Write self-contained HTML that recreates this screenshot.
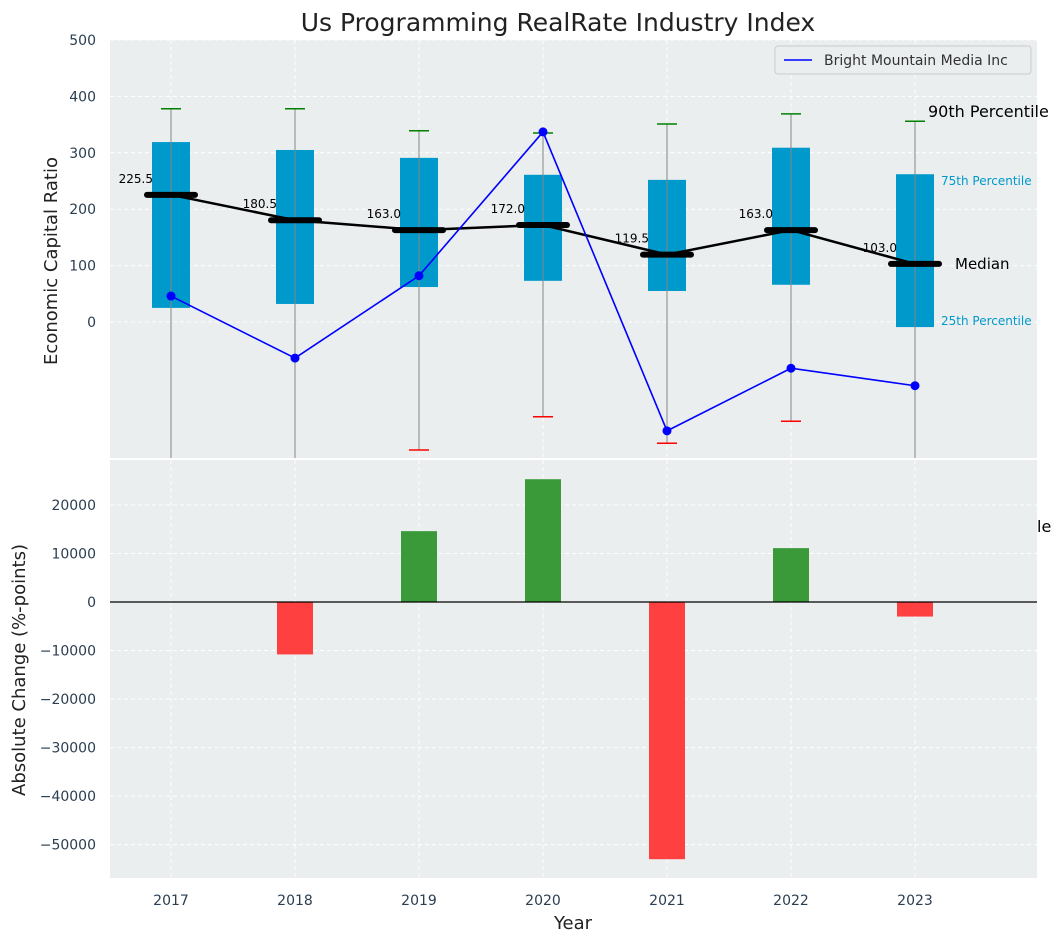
<!DOCTYPE html>
<html><head><meta charset="utf-8"><style>
body{margin:0;background:#fff;font-family:"Liberation Sans","DejaVu Sans",sans-serif}
svg text{font-family:"DejaVu Sans","Liberation Sans",sans-serif}
</style></head><body>
<svg id="c" width="1063" height="942" xmlns="http://www.w3.org/2000/svg"></svg>
<script>
const years=["2017","2018","2019","2020","2021","2022","2023"];
const p25=[25,32,62,73,55,66,-9];
const p75=[319,305,291,261,252,309,262];
const p90=[378,378,339,335,351,369,356];
const p10=[-300,-300,-227,-168,-215,-176,-300];
const medians=[225.5,180.5,163.0,172.0,119.5,163.0,103.0];
const company=[46,-64,82,337,-193,-82,-113];
const changes=[0,-10800,14600,25300,-53000,11100,-3000];
const topTicks=[0,100,200,300,400,500];
const botTicks=[20000,10000,0,-10000,-20000,-30000,-40000,-50000];

const NS="http://www.w3.org/2000/svg";
const svg=document.getElementById('c');
function el(t,a,txt,p){const e=document.createElementNS(NS,t);for(const k in a)e.setAttribute(k,a[k]);if(txt!=null)e.textContent=txt;(p||svg).appendChild(e);return e;}
const X=i=>171+i*124;
const L=110,R=1037,T1=40,B1=458,T2=460,B2=878;
const Y1=v=>322-v*0.564;
const Y2=v=>602-v*0.004853;

let bg=el('rect',{x:L,y:T1,width:R-L,height:B1-T1,fill:'#eaeeee'});

let bg2=el('rect',{x:L,y:T2,width:R-L,height:B2-T2,fill:'#eaeeee'});


years.forEach((y,i)=>{
 el('line',{x1:X(i),x2:X(i),y1:T1,y2:B1,stroke:'#fff','stroke-dasharray':'4,3'});
 el('line',{x1:X(i),x2:X(i),y1:T2,y2:B2,stroke:'#fff','stroke-dasharray':'4,3'});
 let t=el('text',{x:X(i),y:905,'text-anchor':'middle','font-size':14,fill:'#2b3e50'},y);
 
});
topTicks.forEach(v=>{
 el('line',{x1:L,x2:R,y1:Y1(v),y2:Y1(v),stroke:'#fff','stroke-dasharray':'4,3'});
 let t=el('text',{x:96,y:Y1(v)+5,'text-anchor':'end','font-size':14,fill:'#2b3e50'},v);
 
});
botTicks.forEach(v=>{
 el('line',{x1:L,x2:R,y1:Y2(v),y2:Y2(v),stroke:'#fff','stroke-dasharray':'4,3'});
 let t=el('text',{x:96,y:Y2(v)+5,'text-anchor':'end','font-size':14,fill:'#2b3e50'},v<0?'\u2212'+(-v):v);
 
});

const clipT=el('clipPath',{id:'ct'});el('rect',{x:L,y:T1,width:R-L,height:B1-T1},null,clipT);
const g=el('g',{'clip-path':'url(#ct)'});
years.forEach((y,i)=>{
 const x=X(i);
 el('line',{x1:x,x2:x,y1:Y1(p90[i]),y2:Y1(p10[i]),stroke:'#888','stroke-width':1},null,g);
 let b=el('rect',{x:x-19,y:Y1(p75[i]),width:38,height:Y1(p25[i])-Y1(p75[i]),fill:'#0099cc'},null,g);
 
 el('line',{x1:x,x2:x,y1:Y1(p75[i]),y2:Y1(p25[i]),stroke:'#888','stroke-width':1},null,g);
 el('line',{x1:x-10,x2:x+10,y1:Y1(p90[i]),y2:Y1(p90[i]),stroke:'green','stroke-width':1.5},null,g);
 el('line',{x1:x-10,x2:x+10,y1:Y1(p10[i]),y2:Y1(p10[i]),stroke:'red','stroke-width':1.5},null,g);
});
el('polyline',{points:medians.map((m,i)=>X(i)+','+Y1(m)).join(' '),fill:'none',stroke:'#000','stroke-width':2.5},null,g);
medians.forEach((m,i)=>{
 let l=el('line',{x1:X(i)-24,x2:X(i)+24,y1:Y1(m),y2:Y1(m),stroke:'#000','stroke-width':6,'stroke-linecap':'round'},null,g);
 
 let t=el('text',{x:X(i)-18,y:Y1(m)-12,'text-anchor':'end','font-size':12,fill:'#000'},m.toFixed(1));
 
});
let cl=el('polyline',{points:company.map((v,i)=>X(i)+','+Y1(v)).join(' '),fill:'none',stroke:'blue','stroke-width':1.6},null,g);

company.forEach((v,i)=>{let c=el('circle',{cx:X(i),cy:Y1(v),r:4.5,fill:'blue'},null,g);
 });

const ann=[['90th Percentile',928,117,16,'#000'],['75th Percentile',941,185,12,'#0099cc'],['Median',955,269,15,'#000'],['25th Percentile',941,325,12,'#0099cc'],['le',1037,532,16,'#000']];
ann.forEach(a=>{let t=el('text',{x:a[1],y:a[2],'font-size':a[3],fill:a[4]},a[0]);
 });

changes.forEach((v,i)=>{
 if(v===0)return;
 const y0=Y2(Math.max(v,0)),y1=Y2(Math.min(v,0));
 let b=el('rect',{x:X(i)-18,y:y0,width:36,height:y1-y0,fill:v>0?'#3a9a3a':'#ff4040'});
 
});
el('line',{x1:L,x2:R,y1:Y2(0),y2:Y2(0),stroke:'#000','stroke-width':1.2});

const lg=el('g',{});
el('rect',{x:775,y:46,width:256,height:28,rx:3,fill:'#eaeeee',stroke:'#ccc'},null,lg);
el('line',{x1:784,x2:812,y1:60,y2:60,stroke:'blue','stroke-width':1.6},null,lg);
el('text',{x:824,y:65,'font-size':14,fill:'#333'},'Bright Mountain Media Inc',lg);

let tt=el('text',{x:558,y:31,'text-anchor':'middle','font-size':25,fill:'#222'},'Us Programming RealRate Industry Index');

let xl=el('text',{x:573,y:929,'text-anchor':'middle','font-size':18,fill:'#222'},'Year');

let y1t=el('text',{x:57,y:261,'text-anchor':'middle','font-size':18,fill:'#222',transform:'rotate(-90 57 261)'},'Economic Capital Ratio');

let y2t=el('text',{x:25,y:670,'text-anchor':'middle','font-size':18,fill:'#222',transform:'rotate(-90 25 670)'},'Absolute Change (%-points)');

</script>
</body></html>
